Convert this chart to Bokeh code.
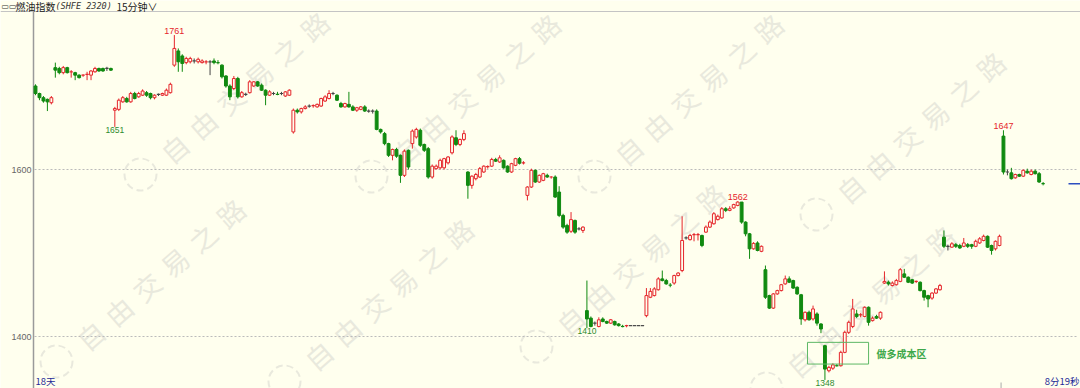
import numpy as np
from bokeh.plotting import figure
from bokeh.models import Range1d, Label, ColumnDataSource
from bokeh.embed import file_html
from bokeh.resources import INLINE
from bokeh.core.properties import value

# ---- 15-minute bars of the fuel-oil index (open / high / low / close) ----
opens = [1700, 1691, 1686, 1684, 1680,
         1722, 1721, 1716, 1722, 1716, 1716, 1713, 1712, 1713, 1713, 1717, 1721, 1721, 1721, 1721,
         1671, 1672, 1681, 1685, 1681, 1691, 1687, 1689, 1692, 1691, 1686, 1690, 1689, 1689, 1692,
         1725, 1742, 1736, 1728, 1729, 1730, 1729, 1728, 1728, 1729, 1730, 1729, 1725, 1712, 1700,
         1697, 1709, 1687, 1690, 1692, 1700, 1705, 1701, 1695, 1689, 1691, 1691, 1691, 1688, 1689,
         1645, 1671, 1669, 1673, 1676, 1676, 1675, 1676, 1682, 1685, 1691, 1689, 1679, 1675, 1678,
         1675, 1671, 1672, 1675, 1670, 1670, 1670, 1648, 1643, 1631, 1617, 1624, 1617, 1593, 1623,
         1631, 1639, 1647, 1630,
         1625, 1591, 1601, 1602, 1602, 1608, 1620, 1638, 1630, 1636,
         1597, 1581, 1589, 1591, 1597, 1603, 1604, 1612, 1609, 1611, 1604, 1597, 1605, 1613, 1607,
         1569, 1579, 1599, 1585, 1587, 1593, 1590, 1591, 1573, 1545, 1533, 1526, 1539, 1529, 1527,
         1431, 1422, 1416, 1412, 1421, 1418, 1416, 1418, 1415, 1413, 1412, 1413, 1413, 1413, 1413,
         1425, 1447, 1449, 1456, 1469, 1467, 1462, 1464, 1473, 1479, 1518, 1516, 1521, 1521, 1521,
         1525, 1531, 1535, 1540, 1542, 1553, 1551, 1554, 1557, 1561, 1537, 1523, 1505, 1512, 1502,
         1480, 1449, 1434, 1451, 1455, 1463, 1469, 1467, 1459, 1450, 1420, 1429, 1421, 1427, 1415,
         1389, 1359, 1362, 1366, 1365, 1381, 1405, 1412, 1427, 1425, 1424, 1435, 1419, 1424, 1422,
         1464, 1465, 1461, 1462, 1466, 1475, 1471, 1468, 1465, 1465, 1455, 1449, 1446, 1452, 1456,
         1519, 1508, 1507, 1510, 1509, 1508, 1510, 1510, 1508, 1512, 1515, 1520, 1509, 1505, 1509,
         1640, 1597, 1596, 1590, 1594, 1592, 1598, 1594, 1598, 1595, 1584]

highs = [1702, 1692, 1688, 1685, 1688,
         1728, 1723, 1724, 1723, 1719, 1717, 1714, 1714, 1717, 1719, 1723, 1722, 1722, 1723, 1722,
         1675, 1685, 1688, 1687, 1693, 1693, 1693, 1696, 1694, 1692, 1690, 1691, 1692, 1697, 1704,
         1761, 1745, 1738, 1735, 1735, 1733, 1734, 1732, 1731, 1731, 1733, 1731, 1726, 1713, 1702,
         1712, 1711, 1694, 1692, 1707, 1706, 1706, 1703, 1696, 1695, 1693, 1693, 1693, 1694, 1696,
         1673, 1673, 1674, 1677, 1678, 1678, 1679, 1686, 1689, 1695, 1693, 1690, 1681, 1680, 1693,
         1677, 1675, 1676, 1677, 1672, 1672, 1672, 1649, 1645, 1632, 1625, 1626, 1618, 1624, 1624,
         1648, 1650, 1649, 1631,
         1627, 1606, 1606, 1613, 1614, 1616, 1641, 1647, 1637, 1647,
         1598, 1593, 1596, 1603, 1605, 1605, 1614, 1614, 1617, 1612, 1605, 1608, 1614, 1615, 1610,
         1580, 1601, 1600, 1594, 1596, 1595, 1592, 1593, 1580, 1547, 1535, 1549, 1540, 1531, 1532,
         1467, 1424, 1418, 1423, 1423, 1419, 1421, 1419, 1416, 1414, 1414, 1413, 1413, 1413, 1413,
         1458, 1458, 1459, 1471, 1479, 1469, 1464, 1474, 1477, 1544, 1520, 1523, 1524, 1524, 1522,
         1533, 1539, 1549, 1546, 1555, 1555, 1556, 1559, 1562, 1561, 1538, 1524, 1513, 1514, 1509,
         1485, 1450, 1452, 1456, 1463, 1473, 1472, 1468, 1460, 1451, 1430, 1431, 1437, 1429, 1416,
         1390, 1365, 1368, 1367, 1383, 1407, 1419, 1445, 1432, 1428, 1436, 1436, 1424, 1426, 1430,
         1478, 1467, 1466, 1469, 1482, 1481, 1472, 1469, 1467, 1466, 1456, 1450, 1453, 1458, 1463,
         1527, 1510, 1513, 1512, 1511, 1518, 1512, 1511, 1516, 1519, 1522, 1521, 1510, 1515, 1522,
         1647, 1600, 1602, 1595, 1595, 1600, 1601, 1600, 1600, 1597, 1585]

lows = [1689, 1683, 1680, 1670, 1678,
        1710, 1714, 1714, 1715, 1710, 1707, 1709, 1711, 1707, 1707, 1716, 1717, 1717, 1718, 1718,
        1651, 1670, 1680, 1680, 1680, 1684, 1686, 1688, 1687, 1684, 1684, 1688, 1688, 1688, 1691,
        1723, 1717, 1717, 1726, 1727, 1727, 1727, 1727, 1726, 1713, 1726, 1726, 1709, 1698, 1683,
        1695, 1685, 1686, 1688, 1691, 1699, 1699, 1694, 1677, 1688, 1689, 1689, 1689, 1687, 1688,
        1643, 1667, 1667, 1672, 1674, 1674, 1674, 1675, 1681, 1684, 1689, 1682, 1674, 1674, 1674,
        1670, 1669, 1671, 1669, 1668, 1667, 1647, 1643, 1629, 1615, 1611, 1614, 1584, 1591, 1600,
        1625, 1637, 1627, 1621,
        1589, 1589, 1600, 1600, 1600, 1606, 1618, 1628, 1628, 1634,
        1565, 1577, 1587, 1590, 1596, 1601, 1603, 1609, 1608, 1601, 1596, 1596, 1604, 1606, 1606,
        1563, 1578, 1584, 1584, 1586, 1590, 1589, 1566, 1543, 1529, 1523, 1524, 1523, 1527, 1524,
        1410, 1411, 1413, 1411, 1417, 1415, 1415, 1413, 1412, 1411, 1411, 1413, 1413, 1413, 1413,
        1423, 1446, 1448, 1455, 1466, 1462, 1459, 1462, 1472, 1477, 1516, 1515, 1514, 1515, 1507,
        1524, 1530, 1534, 1539, 1541, 1549, 1550, 1553, 1556, 1535, 1520, 1493, 1504, 1502, 1501,
        1445, 1433, 1433, 1450, 1454, 1462, 1464, 1457, 1450, 1414, 1418, 1419, 1419, 1413, 1404,
        1348, 1357, 1360, 1364, 1364, 1380, 1403, 1410, 1422, 1423, 1423, 1413, 1418, 1421, 1420,
        1463, 1461, 1460, 1461, 1465, 1470, 1464, 1463, 1464, 1454, 1443, 1435, 1444, 1451, 1455,
        1506, 1503, 1506, 1506, 1505, 1507, 1506, 1505, 1507, 1511, 1514, 1506, 1498, 1503, 1508,
        1594, 1593, 1588, 1589, 1591, 1591, 1595, 1593, 1594, 1584, 1581]

closes = [1691, 1686, 1682, 1681, 1686,
          1719, 1716, 1722, 1716, 1717, 1713, 1710, 1713, 1714, 1718, 1721, 1718, 1718, 1721, 1719,
          1673, 1683, 1686, 1681, 1691, 1685, 1691, 1694, 1689, 1686, 1689, 1690, 1691, 1695, 1702,
          1745, 1729, 1727, 1733, 1733, 1730, 1732, 1730, 1729, 1729, 1728, 1728, 1711, 1700, 1687,
          1709, 1687, 1692, 1690, 1705, 1705, 1700, 1695, 1689, 1693, 1691, 1690, 1691, 1693, 1695,
          1671, 1669, 1673, 1675, 1676, 1676.5, 1678, 1685, 1687, 1691, 1691, 1683, 1675, 1679, 1675,
          1671, 1674, 1675, 1670, 1670, 1670, 1648, 1645, 1631, 1617, 1624, 1616, 1593, 1622, 1603,
          1646, 1648, 1629, 1623,
          1591, 1604, 1604, 1611, 1613, 1615, 1639, 1630, 1636, 1643,
          1581, 1592, 1594, 1601, 1604, 1603.5, 1612, 1610, 1614, 1602, 1597, 1607, 1613, 1607.5, 1608,
          1579, 1599, 1585, 1593, 1595, 1591, 1591, 1567, 1545, 1531, 1525, 1540, 1525, 1529, 1531,
          1421, 1412, 1416, 1420, 1418, 1416, 1420, 1414, 1413, 1412, 1413, 1413, 1413, 1413, 1413,
          1449, 1454, 1457, 1469, 1467, 1463, 1461.5, 1473, 1476, 1515, 1518, 1521, 1522, 1522, 1509,
          1531, 1537, 1547, 1544, 1553, 1551, 1553, 1558, 1561, 1537, 1523, 1505, 1511.5, 1503, 1508,
          1447, 1434, 1451, 1455, 1462, 1469, 1465, 1458, 1451, 1421, 1429, 1420, 1433, 1416, 1409,
          1361, 1363, 1366, 1365, 1381, 1405, 1417, 1433, 1424, 1426, 1435, 1417, 1422, 1422, 1429,
          1466, 1463, 1464, 1467, 1480, 1471, 1465, 1464, 1466, 1455, 1447, 1445, 1452, 1457, 1461,
          1508, 1508, 1511, 1508, 1506, 1512, 1508, 1508, 1514, 1517, 1520, 1507, 1503, 1514, 1520,
          1597, 1597, 1589, 1594, 1592, 1599, 1596, 1598, 1595, 1585, 1583]

# price levels shown on the axis and grid
tick_values = [1400, 1600]
# bars whose extreme is labelled
high_marks = [35, 177, 244]
low_marks = [20, 139, 199]
# long-entry cost zone (bar span and price band)
zone_bars = [194.6, 210.0]
zone_prices = [1367, 1393]
zone_text = "做多成本区"

# ---- colours ----
BG = "#FFFFEE"
UP = "#E5262B"
DOWN = "#108A10"
DOJI = "#444444"
GRID = "#BBBBBB"
NAVY = "#1E2A96"
WM = "#E9E9DD"

# ---- frame geometry (canvas pixels) ----
X_PITCH = 3.967      # px per bar
X_FIRST = 35.0       # px of first bar
Y_SCALE = 0.835      # px per price point
Y_AT_TOP = 1802.4    # price at the canvas top edge
AXIS_X = 33          # px of the price axis line
W, H = 1080, 388


def bx(px):
    return (px - X_FIRST) / X_PITCH


def by(py):
    return Y_AT_TOP - py / Y_SCALE


n = len(opens)
idx = np.arange(n)
o = np.array(opens, float)
h = np.array(highs, float)
lo = np.array(lows, float)
c = np.array(closes, float)
d = c - o

is_up = d >= 1.2
is_down = d <= -1.2
is_flat = ~(is_up | is_down)
col = np.where(is_up, UP, np.where(is_down, DOWN, np.where(d > 0.2, UP, np.where(d < -0.2, DOWN, DOJI))))

p = figure(width=W, height=H, output_backend="svg", toolbar_location=None,
           x_range=Range1d(bx(0), bx(W)), y_range=Range1d(by(H), by(0)),
           x_axis_location=None, y_axis_location=None,
           min_border=0, background_fill_color=BG, border_fill_color=BG, outline_line_color=None)
p.grid.visible = False

# ---- watermark (diagonal repeated text with bubble logo) ----
wm_origins = [(90, 335), (174, 148), (318, 355), (405, 150), (570, 320),
              (628, 150), (800, 362), (850, 188)]
wm_chars = "自由交易之路"
wx, wy, wt = [], [], []
for ox, oy in wm_origins:
    for k, ch in enumerate(wm_chars):
        wx.append(bx(ox + k * 28.0))
        wy.append(by(oy - k * 24.5))
        wt.append(ch)
p.text(x=wx, y=wy, text=wt, angle=0.72, text_align="center", text_baseline="middle",
       text_font=value("Noto Sans CJK SC"), text_font_size="27px", text_color=WM)
logo_x = [bx(ox - 34) for ox, oy in wm_origins]
logo_y = [by(oy + 26) for ox, oy in wm_origins]
p.scatter(x=logo_x, y=logo_y, size=32, marker="circle", fill_color=None,
          line_color=WM, line_width=2, line_dash="7 4")

# ---- price axis: line, dashed grid and tick labels ----
sep_y = by(11)
p.segment(x0=[bx(0)], y0=[sep_y], x1=[bx(W)], y1=[sep_y], line_color="#C4C4C4", line_width=1)
p.segment(x0=[bx(AXIS_X)], y0=[sep_y], x1=[bx(AXIS_X)], y1=[by(H)],
          line_color="#9A9A9A", line_width=1.5)
p.segment(x0=[bx(AXIS_X + 1)] * len(tick_values), y0=tick_values,
          x1=[bx(W - 2)] * len(tick_values), y1=tick_values,
          line_color=GRID, line_width=1, line_dash="2 2")
p.text(x=[bx(AXIS_X - 2)] * len(tick_values), y=tick_values, text=[str(t) for t in tick_values],
       text_align="right", text_baseline="middle", text_font=value("Liberation Sans"),
       text_font_size="9px", text_color="#666666")


def canvas_label(cx, cy, text, **kw):
    p.add_layout(Label(x=cx, y=H - cy, x_units="screen", y_units="screen", text=text, **kw))


# ---- title row ----
title_style = dict(text_font="Noto Sans CJK SC", text_font_size="10px", text_color="#222222",
                   text_baseline="middle")
canvas_label(1, 5.5, "▭▭", text_font="DejaVu Sans", text_font_size="8px", text_color="#333333",
             text_baseline="middle")
canvas_label(15, 5.5, "燃油指数", **title_style)
canvas_label(55, 5.5, "(SHFE 2320)", text_font="DejaVu Sans Mono", text_font_size="8.5px",
             text_color="#333333", text_baseline="middle", text_font_style="italic")
canvas_label(116, 5.5, "15分钟∨", **title_style)

# ---- candlesticks ----
src = ColumnDataSource(dict(x=idx, l=lo, h=h, col=col))
p.segment(x0="x", y0="l", x1="x", y1="h", line_color="col", line_width=1, source=src)

up_idx = idx[is_up]
p.vbar(x=up_idx, width=0.72, top=c[is_up], bottom=o[is_up], fill_color=BG,
       line_color=UP, line_width=1)
dn_idx = idx[is_down]
p.vbar(x=dn_idx, width=0.72, top=o[is_down], bottom=c[is_down], fill_color=DOWN,
       line_color=DOWN, line_width=1)
fl_idx = idx[is_flat]
p.segment(x0=fl_idx - 0.42, y0=c[is_flat], x1=fl_idx + 0.42, y1=c[is_flat],
          line_color=list(col[is_flat]), line_width=1.2)

# ---- extreme labels ----
label_font = value("Liberation Sans")
p.text(x=high_marks, y=[h[i] for i in high_marks], text=[f"{h[i]:.0f}" for i in high_marks],
       text_align="center", text_baseline="bottom", y_offset=-1,
       text_font=label_font, text_font_size="9px", text_color=UP)
p.text(x=low_marks, y=[lo[i] for i in low_marks], text=[f"{lo[i]:.0f}" for i in low_marks],
       text_align="center", text_baseline="top", y_offset=0,
       text_font=label_font, text_font_size="8.5px", text_color="#2E8B2E")

# ---- cost zone ----
p.quad(left=[zone_bars[0]], right=[zone_bars[1]], bottom=[zone_prices[0]], top=[zone_prices[1]],
       fill_color=None, line_color="#5DB865", line_width=1)
p.text(x=[zone_bars[1] + 2], y=[sum(zone_prices) / 2], text=[zone_text],
       text_align="left", text_baseline="middle", text_font=value("Noto Sans CJK SC"),
       text_font_style="bold", text_font_size="10px", text_color="#3DA84A")

# ---- last price marker ----
p.segment(x0=[bx(1068)], y0=[c[-1]], x1=[bx(W)], y1=[c[-1]], line_color="#2D4FC0", line_width=1.5)

# ---- session tick on the time axis ----
p.segment(x0=[243.4], y0=[by(H)], x1=[243.4], y1=[by(382)], line_color="#AAAAAA", line_width=1)

# ---- footer texts ----
footer_style = dict(text_font="Noto Sans CJK SC", text_font_size="9.5px", text_color=NAVY,
                    text_baseline="bottom")
canvas_label(35, 387.5, "18天", **footer_style)
canvas_label(1079, 387.5, "8分19秒", text_align="right", **footer_style)

open("out.html", "w").write(file_html(p, INLINE))
